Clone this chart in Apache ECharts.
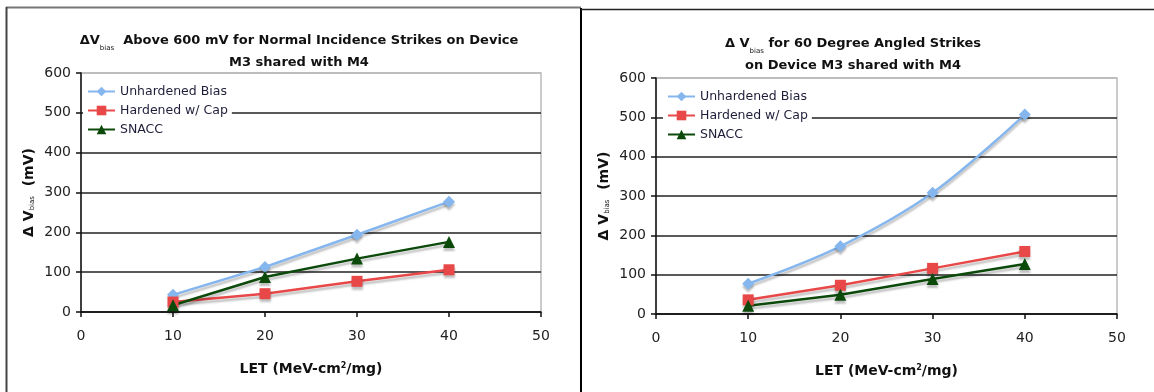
<!DOCTYPE html>
<html>
<head>
<meta charset="utf-8">
<script src="https://cdn.jsdelivr.net/npm/echarts@6/dist/echarts.min.js"></script>
<style>
html,body{margin:0;padding:0;background:#fff;}
#chart{width:1154px;height:392px;}
</style>
</head>
<body>
<div id="chart"></div>
<script>
// ---- data ----
const letValues = [10, 20, 30, 40];
const xTicks = [0, 10, 20, 30, 40, 50];
const yTicks = [0, 100, 200, 300, 400, 500, 600];
const seriesNames = ['Unhardened Bias', 'Hardened w/ Cap', 'SNACC'];

const normalUnhardened = [43, 113, 194, 277];
const normalHardened = [25, 46, 77, 106];
const normalSnacc = [17, 88, 134, 176];

const angledUnhardened = [77, 172, 308, 507];
const angledHardened = [36, 73, 116, 159];
const angledSnacc = [21, 49, 89, 127];

const titleNormal = 'ΔV{sub|bias}  Above 600 mV for Normal Incidence Strikes on Device\nM3 shared with M4';
const titleAngled = 'Δ V{sub|bias} for 60 Degree Angled Strikes\non Device M3 shared with M4';
const yName = 'Δ V{sub|bias}  (mV)';
const xName = 'LET (MeV-cm{sup|2}/mg)';

// ---- styling ----
const FONT = 'DejaVu Sans';
const colors = ['#86b6ee', '#e84848', '#0b4a0b'];
const symbols = ['diamond', 'rect', 'triangle'];
const symbolSizes = [12, 11, 12];

function pair(xs, ys) { return xs.map((x, i) => [x, ys[i]]); }

function makeSeries(idx, values, gridIdx, smoothFlag) {
  return {
    type: 'line',
    name: seriesNames[idx],
    xAxisIndex: gridIdx, yAxisIndex: gridIdx,
    data: pair(letValues, values),
    smooth: smoothFlag,
    symbol: symbols[idx],
    symbolSize: symbolSizes[idx],
    color: colors[idx],
    lineStyle: { width: 2.5, color: colors[idx], shadowColor: 'rgba(0,0,0,0.25)', shadowOffsetY: 3, shadowBlur: 2 },
    itemStyle: { color: colors[idx], shadowColor: 'rgba(0,0,0,0.25)', shadowOffsetY: 3, shadowBlur: 2 },
    emphasis: { disabled: true },
    animation: false
  };
}

const subRich = {
  sub: { fontSize: 7, fontFamily: FONT, fontWeight: 'normal', verticalAlign: 'bottom', padding: [5, 0, 0, 0] },
  sup: { fontSize: 8, fontFamily: FONT, fontWeight: 'bold', verticalAlign: 'top', padding: [0, 0, 6, 0] }
};

function xAxisCfg(gridIdx) {
  return {
    type: 'value', gridIndex: gridIdx, min: xTicks[0], max: xTicks[xTicks.length - 1], interval: 10,
    axisLine: { show: true, lineStyle: { color: '#111', width: 1.5 } },
    axisTick: { show: true, length: 5, lineStyle: { color: '#111', width: 1.5 } },
    axisLabel: { margin: 17, fontSize: 14, color: '#222', fontFamily: FONT },
    splitLine: { show: false },
    name: xName, nameLocation: 'middle', nameGap: 50,
    nameTextStyle: { fontSize: 14, fontWeight: 'bold', color: '#111', fontFamily: FONT, rich: subRich }
  };
}
function yAxisCfg(gridIdx) {
  return {
    type: 'value', gridIndex: gridIdx, min: yTicks[0], max: yTicks[yTicks.length - 1], interval: 100,
    axisLine: { show: true, lineStyle: { color: '#111', width: 1.5 } },
    axisTick: { show: true, length: 5, lineStyle: { color: '#111', width: 1.5 } },
    axisLabel: { margin: 10, fontSize: 14, color: '#222', fontFamily: FONT },
    splitLine: { show: true, lineStyle: { color: ['#222', '#222', '#222', '#222', '#222', '#222', '#b8b8b8'], width: 1.5 } },
    name: yName, nameLocation: 'middle', nameGap: 45, nameRotate: 90,
    nameTextStyle: { fontSize: 14, fontWeight: 'bold', color: '#111', fontFamily: FONT, rich: subRich }
  };
}

const titleStyle = { fontSize: 13, fontWeight: 'bold', color: '#111', fontFamily: FONT, lineHeight: 22, rich: subRich };

const legendBase = {
  orient: 'vertical', itemWidth: 27, itemHeight: 12, itemGap: 6,
  backgroundColor: '#fff', padding: [4, 4, 4, 4],
  textStyle: { fontSize: 12.5, color: '#1e1e3a', fontFamily: FONT },
  data: seriesNames
};

const chart = echarts.init(document.getElementById('chart'), null, { renderer: 'canvas' });
chart.setOption({
  animation: false,
  backgroundColor: '#fff',
  title: [
    { text: titleNormal, left: 294, top: 25, textAlign: 'center', textStyle: titleStyle },
    { text: titleAngled, left: 848, top: 28, textAlign: 'center', textStyle: titleStyle }
  ],
  legend: [
    Object.assign({}, legendBase, { left: 83, top: 81 }),
    Object.assign({}, legendBase, { left: 663, top: 86 })
  ],
  grid: [
    { left: 81, top: 73, width: 460, height: 239, show: true, borderColor: '#bbb', borderWidth: 1.5, backgroundColor: 'transparent' },
    { left: 656, top: 78, width: 461, height: 236, show: true, borderColor: '#bbb', borderWidth: 1.5, backgroundColor: 'transparent' }
  ],
  xAxis: [xAxisCfg(0), xAxisCfg(1)],
  yAxis: [yAxisCfg(0), yAxisCfg(1)],
  series: [
    makeSeries(0, normalUnhardened, 0, false),
    makeSeries(1, normalHardened, 0, false),
    makeSeries(2, normalSnacc, 0, false),
    makeSeries(0, angledUnhardened, 1, 0.35),
    makeSeries(1, angledHardened, 1, false),
    makeSeries(2, angledSnacc, 1, false)
  ],
  graphic: [
    { type: 'line', shape: { x1: 6, y1: 7.5, x2: 581, y2: 7.5 }, style: { stroke: '#777', lineWidth: 2 }, silent: true },
    { type: 'line', shape: { x1: 6.5, y1: 7, x2: 6.5, y2: 392 }, style: { stroke: '#444', lineWidth: 2 }, silent: true },
    { type: 'line', shape: { x1: 581, y1: 8, x2: 581, y2: 392 }, style: { stroke: '#000', lineWidth: 2 }, silent: true },
    { type: 'line', shape: { x1: 581, y1: 9.5, x2: 1154, y2: 9.5 }, style: { stroke: '#222', lineWidth: 1.5 }, silent: true }
  ]
});
</script>
</body>
</html>
